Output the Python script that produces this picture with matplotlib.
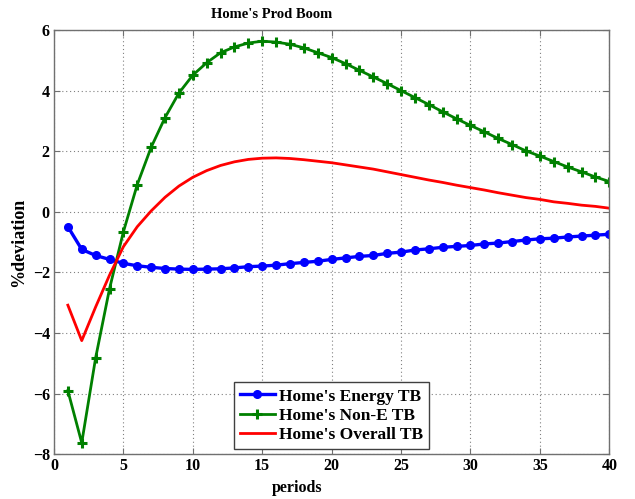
import numpy as np
import matplotlib
matplotlib.use("Agg")
import matplotlib.pyplot as plt

periods = np.arange(1, 41)

energy_tb = [-0.49, -1.24, -1.44, -1.57, -1.70, -1.78, -1.83, -1.87, -1.89, -1.90,
             -1.89, -1.88, -1.85, -1.81, -1.79, -1.76, -1.71, -1.67, -1.63, -1.57,
             -1.52, -1.47, -1.44, -1.37, -1.33, -1.26, -1.22, -1.17, -1.14, -1.11,
             -1.06, -1.03, -0.98, -0.93, -0.89, -0.87, -0.83, -0.80, -0.77, -0.74]

non_e_tb = [-5.90, -7.62, -4.82, -2.54, -0.66, 0.90, 2.13, 3.11, 3.92, 4.51,
            4.92, 5.25, 5.44, 5.57, 5.63, 5.60, 5.53, 5.41, 5.25, 5.09,
            4.89, 4.67, 4.45, 4.23, 4.00, 3.77, 3.54, 3.30, 3.07, 2.85,
            2.64, 2.42, 2.22, 2.01, 1.84, 1.66, 1.48, 1.32, 1.15, 1.00]

overall_tb = [-3.08, -4.25, -3.14, -2.09, -1.15, -0.49, 0.03, 0.48, 0.85, 1.14,
              1.36, 1.53, 1.65, 1.73, 1.77, 1.78, 1.76, 1.72, 1.67, 1.62,
              1.55, 1.48, 1.41, 1.32, 1.23, 1.14, 1.05, 0.97, 0.88, 0.80,
              0.72, 0.63, 0.55, 0.47, 0.41, 0.33, 0.28, 0.22, 0.18, 0.12]

labels = ["Home's Energy TB", "Home's Non-E TB", "Home's Overall TB"]
xticks = [0, 5, 10, 15, 20, 25, 30, 35, 40]
yticks = [-8, -6, -4, -2, 0, 2, 4, 6]

plt.rcParams['font.family'] = ['Liberation Serif', 'DejaVu Serif']
plt.rcParams['font.weight'] = 'bold'

fig = plt.figure(figsize=(6.35, 4.99), dpi=100)
ax = fig.add_axes([0.085, 0.0896, 0.8745, 0.8503])

ax.plot(periods, energy_tb, color='#0000ff', lw=2.4, marker='o', ms=5.5,
        label=labels[0])
ax.plot(periods, non_e_tb, color='#008000', lw=2.0, marker='+', ms=7, mew=2.2,
        label=labels[1])
ax.plot(periods, overall_tb, color='#ff0000', lw=2.0, label=labels[2])

ax.set_xlim(0, 40)
ax.set_ylim(-8, 6)
ax.set_xticks(xticks)
ax.set_yticks(yticks)
ax.grid(True, linestyle=(0, (1, 2.5)), color='#808080', lw=0.8)
ax.tick_params(direction='in', top=True, right=True, length=4,
               labelsize=11.5, color='#707070', pad=3)
for lab in ax.get_xticklabels() + ax.get_yticklabels():
    lab.set_fontweight('bold')
for sp in ax.spines.values():
    sp.set_color('#707070')
    sp.set_linewidth(1.0)

# title and x label sit left of the axes centre
fig.text(272 / 635, 1 - 18 / 499, "Home's Prod Boom", fontsize=10.5,
         fontweight='bold', ha='center', va='baseline')
fig.text(297 / 635, 1 - 492 / 499, 'periods', fontsize=11.5,
         fontweight='bold', ha='center', va='baseline')
ax.set_ylabel('%deviation', fontsize=13, fontweight='bold', labelpad=4)

leg = ax.legend(loc='lower center', bbox_to_anchor=(0.5, 0.012), fancybox=False,
                framealpha=1, edgecolor='#404040', prop={'weight': 'bold', 'size': 12.5},
                handlelength=2.0, borderpad=0.35, labelspacing=0.18,
                handletextpad=0.25, borderaxespad=0.0)
leg.get_frame().set_linewidth(1.0)

fig.savefig('out.png', dpi=100)
